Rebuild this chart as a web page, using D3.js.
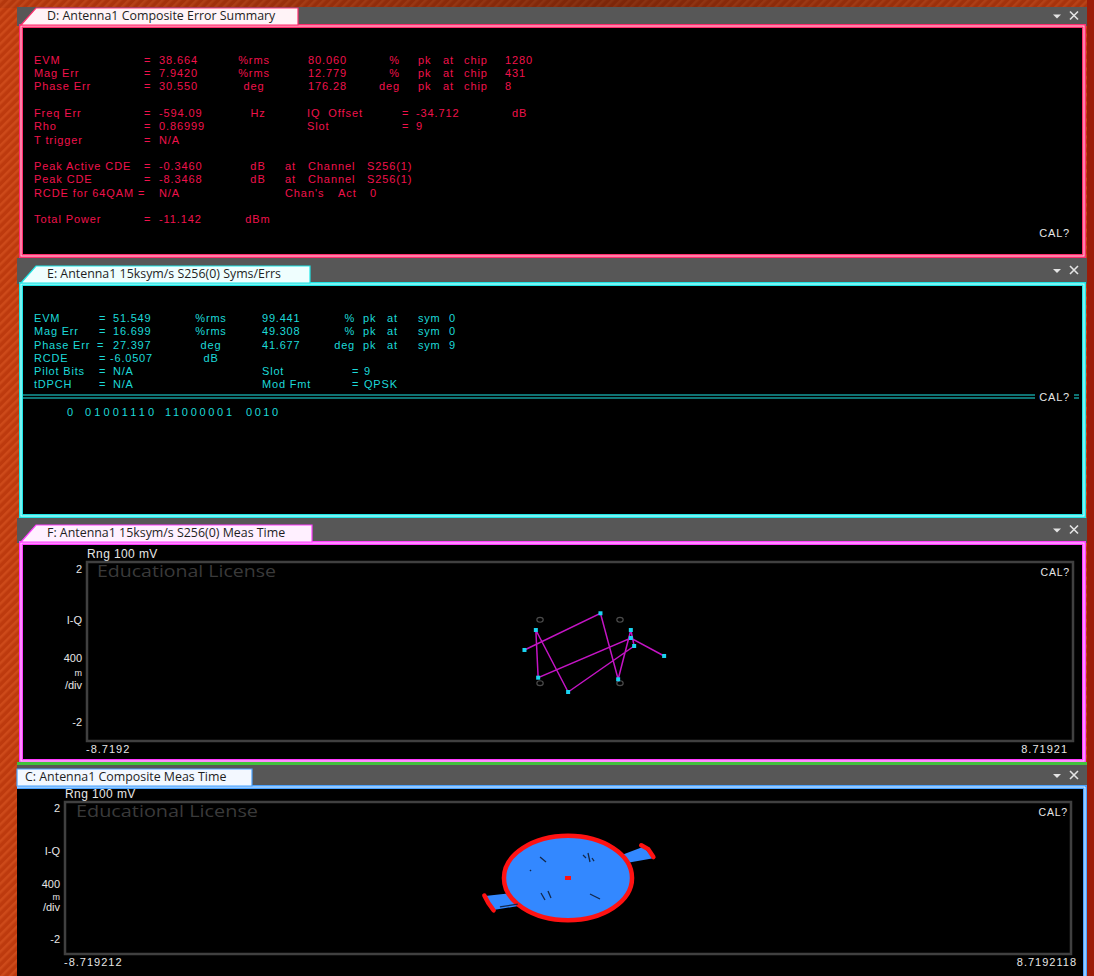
<!DOCTYPE html>
<html><head><meta charset="utf-8">
<script src="https://cdn.jsdelivr.net/npm/d3@7"></script>
<style>body{margin:0;background:#000;overflow:hidden}svg{display:block}</style>
</head><body>
<svg id="scr" width="1094" height="976"></svg>
<script>
// ---------- composite error summary (window D) ----------
const dLabels = ["EVM", "Mag Err", "Phase Err", "Freq Err", "Rho", "T trigger",
                 "Peak Active CDE", "Peak CDE", "RCDE for 64QAM", "Total Power"];
const dValues = ["38.664", "7.9420", "30.550", "-594.09", "0.86999", "N/A",
                 "-0.3460", "-8.3468", "N/A", "-11.142"];
const dUnits = ["%rms", "%rms", "deg", "Hz", "", "", "dB", "dB", "", "dBm"];
const dPeakValues = ["80.060", "12.779", "176.28"];
const dPeakUnits = ["%", "%", "deg"];
const dPeakChips = ["1280", "431", "8"];
const dSideNames = ["IQ  Offset", "Slot"];
const dSideValues = ["-34.712", "9"];
const dSideUnits = ["dB", ""];
const dChannels = ["S256(1)", "S256(1)"];
const dChansAct = "0";

// ---------- symbol / error table (window E) ----------
const eLabels = ["EVM", "Mag Err", "Phase Err", "RCDE", "Pilot Bits", "tDPCH"];
const eValues = ["51.549", "16.699", "27.397", "-6.0507", "N/A", "N/A"];
const eUnits = ["%rms", "%rms", "deg", "dB", "", ""];
const ePeakValues = ["99.441", "49.308", "41.677"];
const ePeakUnits = ["%", "%", "deg"];
const ePeakSyms = ["0", "0", "9"];
const eSideNames = ["Slot", "Mod Fmt"];
const eSideValues = ["9", "QPSK"];
const eBits = ["0", "01001110", "11000001", "0010"];

// ---------- S256(0) symbol trajectory, I/Q in volts (window F) ----------
const symI = [1.488, 0.899, -0.740, -0.781, -0.210, 0.958, 0.899, 0.675, 0.362, -0.982];
const symQ = [-0.100, 0.302, -0.585, 0.480, -0.905, 0.123, 0.480, -0.621, 0.854, 0.034];
const idealI = [-0.7071, 0.7071, -0.7071, 0.7071];
const idealQ = [0.7071, 0.7071, -0.7071, -0.7071];

// ---------- composite trace (window C) ----------
const compRadius = 1.11;
const compRightWing = [[0.931, 0.605], [1.306, 0.824], [1.479, 0.518], [0.988, 0.386]];
const compLeftWing = [[-1.439, -0.474], [-0.919, -0.387], [-0.861, -0.737], [-1.295, -0.842]];
const compRightEnd = [[1.27, 0.86], [1.39, 0.76], [1.48, 0.55]];
const compLeftEnd = [[-1.45, -0.46], [-1.38, -0.66], [-1.29, -0.85]];
const compGapsA = [[-0.485, 0.553], [0.260, 0.605], [0.347, 0.658], [0.416, 0.526],
                   [-0.468, -0.395], [-0.347, -0.342], [0.381, -0.421], [-0.659, 0.211], [-1.18, -0.76]];
const compGapsB = [[-0.381, 0.421], [0.312, 0.526], [0.381, 0.421], [0.451, 0.447],
                   [-0.399, -0.579], [-0.295, -0.526], [0.555, -0.553], [-0.641, 0.184], [-0.87, -0.69]];

// ---------- axis labels ----------
const fXLabels = ["-8.7192", "8.71921"];
const cXLabels = ["-8.719212", "8.7192118"];
const yEndLabels = ["2", "-2"];
const yUnitLabels = ["I-Q", "400", "m", "/div"];
const rangeLabel = "Rng 100 mV";
const watermark = "Educational License";
const calLabel = "CAL?";

const tabTitles = ["D: Antenna1 Composite Error Summary",
                   "E: Antenna1 15ksym/s S256(0) Syms/Errs",
                   "F: Antenna1 15ksym/s S256(0) Meas Time",
                   "C: Antenna1 Composite Meas Time"];

// =====================================================================
const svg = d3.select("#scr");
const defs = svg.append("defs");
const pat = defs.append("pattern").attr("id", "stripes")
  .attr("patternUnits", "userSpaceOnUse").attr("width", 6).attr("height", 6)
  .attr("patternTransform", "rotate(45)");
pat.append("rect").attr("width", 6).attr("height", 6).attr("fill", "#bd3a0e");
pat.append("rect").attr("width", 2.5).attr("height", 6).attr("fill", "#cd4a1a");

const topGrad = defs.append("linearGradient").attr("id", "topShade");
topGrad.append("stop").attr("offset", "0%").attr("stop-color", "#000").attr("stop-opacity", 0.05);
topGrad.append("stop").attr("offset", "55%").attr("stop-color", "#000").attr("stop-opacity", 0.35);
topGrad.append("stop").attr("offset", "100%").attr("stop-color", "#000").attr("stop-opacity", 0.1);

// desktop background
svg.append("rect").attr("width", 1094).attr("height", 976).attr("fill", "url(#stripes)");
svg.append("rect").attr("width", 1094).attr("height", 8).attr("fill", "url(#topShade)");
svg.append("rect").attr("x", 1087).attr("width", 7).attr("height", 976).attr("fill", "#9c1c08");

const UI = "'Open Sans', 'DejaVu Sans', sans-serif";
const MONO = "'Liberation Sans', Arial, sans-serif";

function txt(g, x, y, s, o = {}) {
  const t = g.append("text").attr("x", x).attr("y", y).text(s)
    .attr("font-family", o.family || MONO)
    .attr("font-size", o.size || 11)
    .attr("fill", o.fill || "#e6e6e6")
    .attr("text-anchor", o.anchor || "start")
    .style("white-space", "pre");
  if (o.ls !== undefined) t.attr("letter-spacing", o.ls);
  if (o.len) t.attr("textLength", o.len).attr("lengthAdjust", o.adj || "spacingAndGlyphs");
  return t;
}

// window chrome: grey header strip, tab, double-line frame
function windowChrome(p) {
  const g = svg.append("g");
  g.append("rect").attr("x", 17).attr("y", p.headTop).attr("width", 1070)
    .attr("height", p.frameTop - p.headTop + 2).attr("fill", "#575757");
  const fb = p.frameBottom;
  if (p.openLeft) {
    g.append("rect").attr("x", 17).attr("y", p.frameTop + 2).attr("width", 1067)
      .attr("height", fb - p.frameTop).attr("fill", "#000");
    const d = `M17,${p.frameTop + 2} H1085 V${fb}`;
    g.append("path").attr("d", d).attr("fill", "none").attr("stroke", p.outer).attr("stroke-width", 4);
    g.append("path").attr("d", d).attr("fill", "none").attr("stroke", p.inner).attr("stroke-width", 1);
  } else {
    g.append("rect").attr("x", 21).attr("y", p.frameTop + 2).attr("width", 1063)
      .attr("height", fb - p.frameTop - 4).attr("fill", "#000")
      .attr("stroke", p.outer).attr("stroke-width", 4);
    g.append("rect").attr("x", 21).attr("y", p.frameTop + 2).attr("width", 1063)
      .attr("height", fb - p.frameTop - 4).attr("fill", "none")
      .attr("stroke", p.inner).attr("stroke-width", 1);
  }
  // tab
  const tt = p.frameTop - 16, tb = p.frameTop + 1;
  const tabPts = p.slant
    ? [[21, tb], [36, tt], [p.tabRight, tt], [p.tabRight, tb]]
    : [[17, tb], [17, tt], [p.tabRight, tt], [p.tabRight, tb]];
  g.append("polygon").attr("points", tabPts.map(d => d.join(",")).join(" "))
    .attr("fill", p.tabFill).attr("stroke", p.outer).attr("stroke-width", 1.2);
  txt(g, p.slant ? 47 : 25, tt + 12, p.title, { family: UI, size: 12.4, fill: "#1e1e1e" });
  // dropdown + close icons
  const iy = p.headTop + (p.frameTop - p.headTop) / 2;
  g.append("polygon").attr("points", `1053,${iy - 1} 1061,${iy - 1} 1057,${iy + 3}`).attr("fill", "#e4e4e4");
  g.append("path").attr("d", `M1070,${iy - 4} L1078,${iy + 4} M1078,${iy - 4} L1070,${iy + 4}`)
    .attr("stroke", "#e4e4e4").attr("stroke-width", 1.6);
  return g;
}

// ---------------- window D ----------------
const gD = windowChrome({ headTop: 7, frameTop: 24, frameBottom: 258, outer: "#ff2d6e", inner: "#ffd0de",
  tabRight: 298, tabFill: "#fff3f7", title: tabTitles[0], slant: true });
const dCol = "#f0124c";
const dText = { fill: dCol, ls: 0.9 };
const dRowY = [64, 77, 90, 117, 130, 144, 170, 183, 197, 223];
dLabels.forEach((s, i) => {
  txt(gD, 34, dRowY[i], s, dText);
  txt(gD, i === 8 ? 138 : 144, dRowY[i], "=", dText);
  txt(gD, 159, dRowY[i], dValues[i], dText);
  if (dUnits[i]) txt(gD, i < 3 ? 254 : 258, dRowY[i], dUnits[i], { ...dText, anchor: "middle" });
});
dPeakValues.forEach((s, i) => {
  txt(gD, 308, dRowY[i], s, dText);
  txt(gD, 400, dRowY[i], dPeakUnits[i], { ...dText, anchor: "end" });
  txt(gD, 418, dRowY[i], "pk", dText);
  txt(gD, 443, dRowY[i], "at", dText);
  txt(gD, 464, dRowY[i], "chip", dText);
  txt(gD, 505, dRowY[i], dPeakChips[i], dText);
});
dSideNames.forEach((s, i) => {
  const y = dRowY[3 + i];
  txt(gD, 307, y, s, dText);
  txt(gD, 402, y, "=", dText);
  txt(gD, 416, y, dSideValues[i], dText);
  if (dSideUnits[i]) txt(gD, 512, y, dSideUnits[i], dText);
});
dChannels.forEach((s, i) => {
  const y = dRowY[6 + i];
  txt(gD, 285, y, "at", dText);
  txt(gD, 308, y, "Channel", dText);
  txt(gD, 367, y, s, dText);
});
txt(gD, 285, dRowY[8], "Chan's", dText);
txt(gD, 338, dRowY[8], "Act", dText);
txt(gD, 370, dRowY[8], dChansAct, dText);
txt(gD, 1070, 237, calLabel, { anchor: "end", ls: 0.8 });

// ---------------- window E ----------------
const gE = windowChrome({ headTop: 258, frameTop: 282, frameBottom: 518, outer: "#1ee6e6", inner: "#d4ffff",
  tabRight: 310, tabFill: "#effefe", title: tabTitles[1], slant: true });
const eText = { fill: "#1cd9d9", ls: 0.8 };
const eRowY = [322, 335, 349, 362, 375, 388];
eLabels.forEach((s, i) => {
  txt(gE, 34, eRowY[i], s, eText);
  txt(gE, i === 2 ? 97 : 99, eRowY[i], "=", eText);
  txt(gE, i === 3 ? 110 : 113, eRowY[i], eValues[i], eText);
  if (eUnits[i]) txt(gE, 211, eRowY[i], eUnits[i], { ...eText, anchor: "middle" });
});
ePeakValues.forEach((s, i) => {
  txt(gE, 262, eRowY[i], s, eText);
  txt(gE, 355, eRowY[i], ePeakUnits[i], { ...eText, anchor: "end" });
  txt(gE, 363, eRowY[i], "pk", eText);
  txt(gE, 387, eRowY[i], "at", eText);
  txt(gE, 418, eRowY[i], "sym", eText);
  txt(gE, 449, eRowY[i], ePeakSyms[i], eText);
});
eSideNames.forEach((s, i) => {
  const y = eRowY[4 + i];
  txt(gE, 262, y, s, eText);
  txt(gE, 352, y, "=", eText);
  txt(gE, 364, y, eSideValues[i], eText);
});
[395, 398].forEach(y => {
  gE.append("line").attr("x1", 23).attr("x2", 1035).attr("y1", y).attr("y2", y).attr("stroke", "#1ee6e6");
  gE.append("line").attr("x1", 1074).attr("x2", 1079).attr("y1", y).attr("y2", y).attr("stroke", "#1ee6e6");
});
txt(gE, 1070, 401, calLabel, { anchor: "end", ls: 0.8 });
const bitX = [67, 85, 165, 246], bitW = [7, 69, 67, 32];
eBits.forEach((s, i) => txt(gE, bitX[i], 416, s, { fill: "#1cd9d9", len: bitW[i], adj: "spacing" }));

// ---------------- shared plot furniture ----------------
function plotFrame(g, box, xl, o) {
  g.append("rect").attr("x", box.x0).attr("y", box.y0).attr("width", box.x1 - box.x0)
    .attr("height", box.y1 - box.y0).attr("fill", "#000").attr("stroke", "#404040").attr("stroke-width", 2.5);
  txt(g, box.x0, box.y0 - 4, rangeLabel, { size: 12, ls: 0.4 });
  txt(g, box.x0 + (o.wmDx), box.y0 + 15, watermark, { size: 15.5, fill: "#3a3a3a", len: o.wmLen, family: UI });
  txt(g, box.x1 - 3, box.y0 + 14, calLabel, { anchor: "end", ls: 0.8, size: 10.5 });
  const lx = box.x0 - 5;
  txt(g, lx, o.yTop, yEndLabels[0], { anchor: "end" });
  txt(g, lx, o.yBot, yEndLabels[1], { anchor: "end" });
  o.unitY.forEach((yy, i) => txt(g, lx, yy, yUnitLabels[i], { anchor: "end", size: i === 2 ? 9 : 11 }));
  txt(g, box.x0 - 1, o.xLabY, xl[0], { ls: 1 });
  txt(g, o.xRight, o.xLabY, xl[1], { anchor: "end", ls: 1 });
}

// ---------------- window F ----------------
const gF = windowChrome({ headTop: 518, frameTop: 541, frameBottom: 763, outer: "#ff3cff", inner: "#ffdcff",
  tabRight: 312, tabFill: "#fff0ff", title: tabTitles[2], slant: true });
svg.append("rect").attr("x", 17).attr("y", 762).attr("width", 1070).attr("height", 3).attr("fill", "#42c23c");
const boxF = { x0: 87, x1: 1073, y0: 562, y1: 741 };
const xF = d3.scaleLinear().domain([-8.7192, 8.71921]).range([boxF.x0, boxF.x1]);
const yF = d3.scaleLinear().domain([-2, 2]).range([boxF.y1, boxF.y0]);
plotFrame(gF, boxF, fXLabels, { wmDx: 10, wmLen: 179, yTop: 573, yBot: 726,
  unitY: [624, 662, 676, 689], xLabY: 753, xRight: 1068 });

gF.selectAll("ellipse.ideal").data(idealI).join("ellipse")
  .attr("cx", (d) => xF(d)).attr("cy", (d, i) => yF(idealQ[i]))
  .attr("rx", 3.2).attr("ry", 2.4).attr("fill", "none").attr("stroke", "#4a4a4a").attr("stroke-width", 1.2);
const symPts = symI.map((v, i) => [v, symQ[i]]);
gF.append("path").datum(symPts)
  .attr("d", d3.line().x(d => xF(d[0])).y(d => yF(d[1])))
  .attr("fill", "none").attr("stroke", "#c414c4").attr("stroke-width", 1.5);
gF.selectAll("rect.sym").data(symPts).join("rect")
  .attr("x", d => xF(d[0]) - 2).attr("y", d => yF(d[1]) - 2)
  .attr("width", 4).attr("height", 4).attr("fill", "#1ad4f2");

// ---------------- window C ----------------
const gC = windowChrome({ headTop: 765, frameTop: 785, frameBottom: 990, outer: "#4aa2ff", inner: "#dcefff",
  tabRight: 252, tabFill: "#f3f8ff", title: tabTitles[3], slant: false, openLeft: true });
const boxC = { x0: 65, x1: 1071, y0: 802, y1: 954 };
const xC = d3.scaleLinear().domain([-8.719212, 8.7192118]).range([boxC.x0, boxC.x1]);
const yC = d3.scaleLinear().domain([-2, 2]).range([boxC.y1, boxC.y0]);
plotFrame(gC, boxC, cXLabels, { wmDx: 11, wmLen: 182, yTop: 812, yBot: 943,
  unitY: [855, 888, 900, 911], xLabY: 966, xRight: 1077 });

const blue = "#3388ff", red = "#ff1212";
const poly = d3.line().x(d => xC(d[0])).y(d => yC(d[1]));
[compRightWing, compLeftWing].forEach(w =>
  gC.append("path").attr("d", poly(w) + "Z").attr("fill", blue));
[compRightEnd, compLeftEnd].forEach(w =>
  gC.append("path").attr("d", poly(w)).attr("fill", "none").attr("stroke", red)
    .attr("stroke-width", 4.5).attr("stroke-linecap", "round"));
gC.append("ellipse").attr("cx", xC(0)).attr("cy", yC(0))
  .attr("rx", xC(compRadius) - xC(0)).attr("ry", yC(0) - yC(compRadius))
  .attr("fill", blue).attr("stroke", red).attr("stroke-width", 4.5);
gC.selectAll("line.gap").data(compGapsA).join("line")
  .attr("x1", d => xC(d[0])).attr("y1", d => yC(d[1]))
  .attr("x2", (d, i) => xC(compGapsB[i][0])).attr("y2", (d, i) => yC(compGapsB[i][1]))
  .attr("stroke", "#14284a").attr("stroke-width", 1.3);
gC.append("rect").attr("x", xC(0) - 3).attr("y", yC(0) - 2).attr("width", 6).attr("height", 4).attr("fill", red);
</script>
</body></html>
